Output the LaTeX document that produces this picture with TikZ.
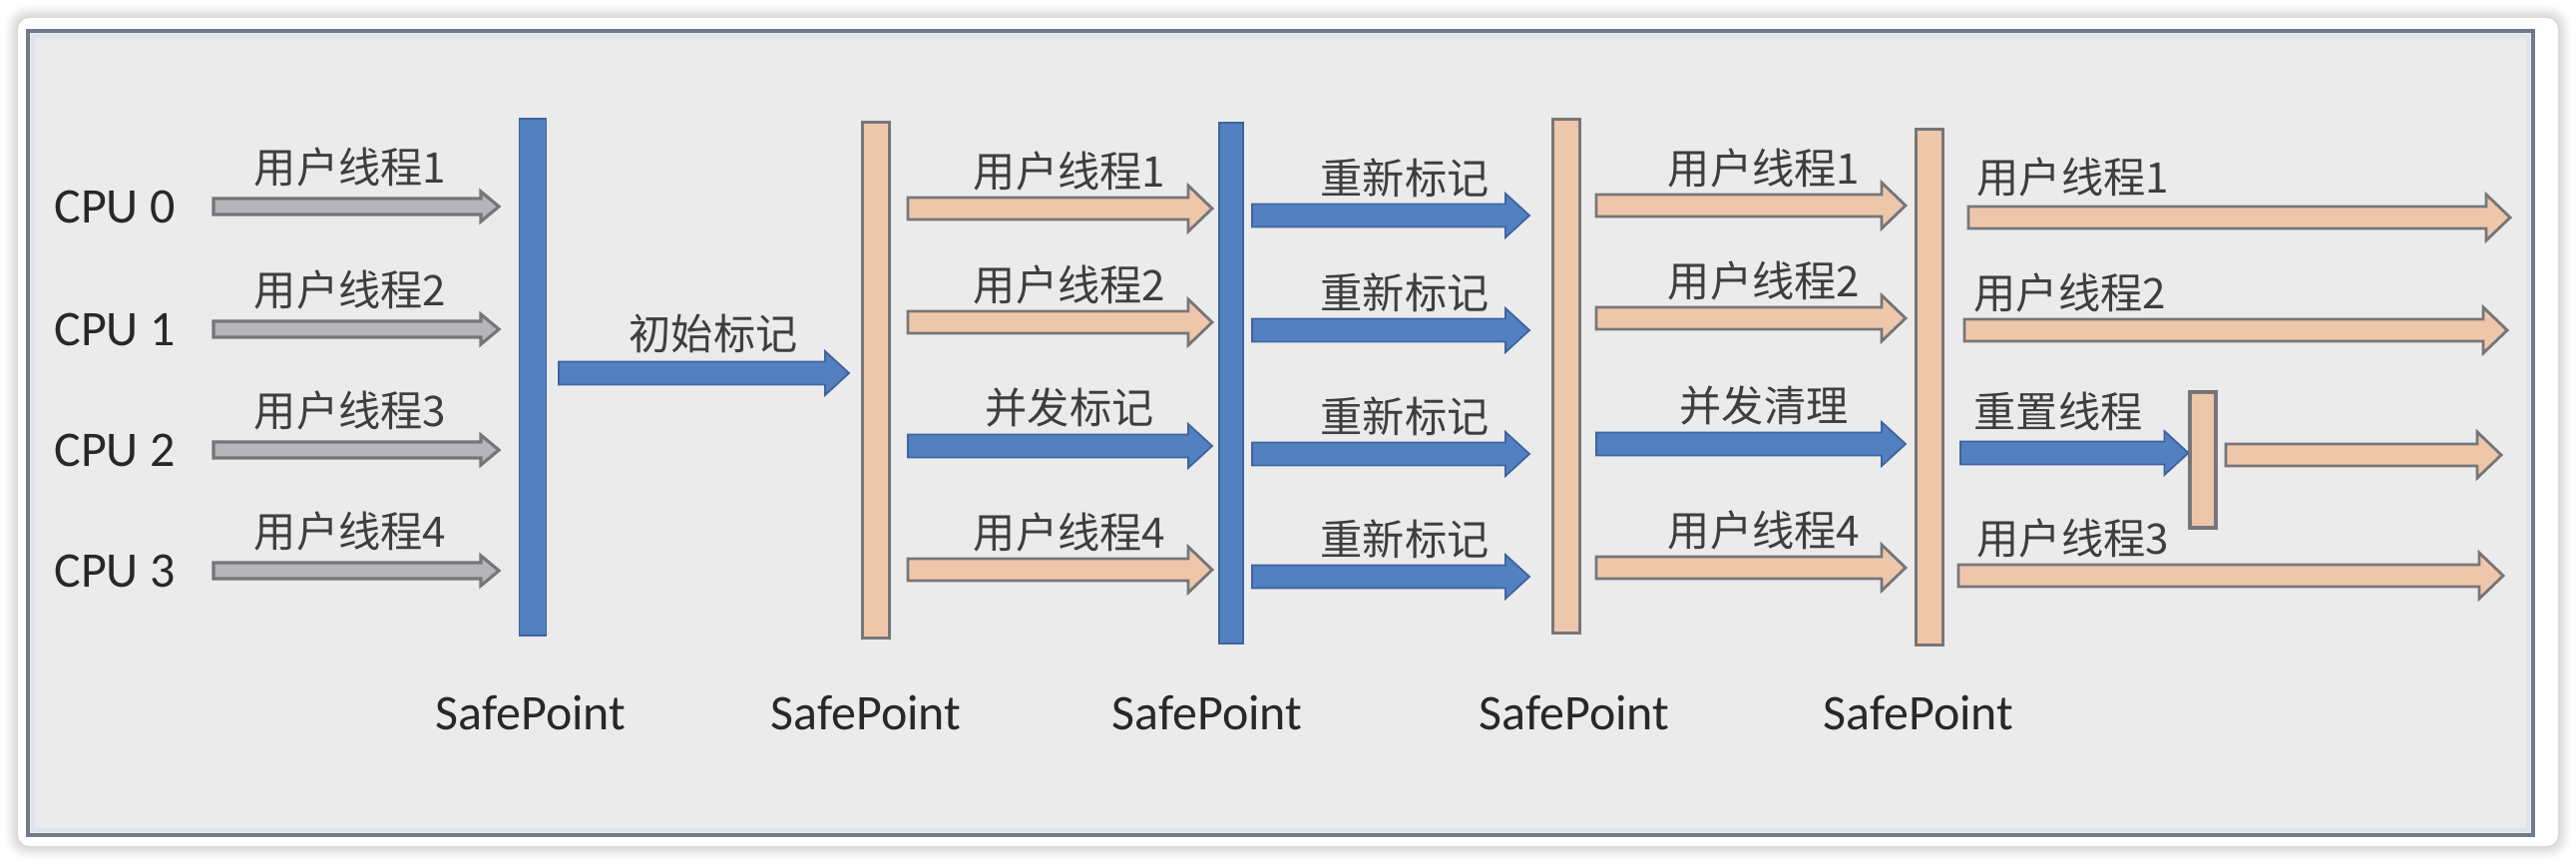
\documentclass[tikz,border=0pt]{standalone}
\usepackage{fontspec}
\setmainfont{Carlito}
\newfontfamily\cjk{Noto Sans CJK SC}
\usetikzlibrary{calc}

\definecolor{nen}{RGB}{235,235,235}
\definecolor{khung}{RGB}{112,122,138}
\definecolor{khungnhat}{RGB}{222,228,236}
\definecolor{xanh}{RGB}{82,128,193}
\definecolor{xanhdam}{RGB}{62,100,158}
\definecolor{cam}{RGB}{238,199,170}
\definecolor{xam}{RGB}{182,182,184}
\definecolor{vien}{RGB}{118,118,122}
\definecolor{chu}{RGB}{62,62,62}
\definecolor{chuden}{RGB}{40,40,40}

\tikzset{
  fat/.style n args={3}{to path={
      ($(\tikztostart)+(0,#1)$) -- ($(\tikztotarget)+(-#3,#1)$)
      -- ($(\tikztotarget)+(-#3,#2)$) -- (\tikztotarget)
      -- ($(\tikztotarget)+(-#3,-#2)$) -- ($(\tikztotarget)+(-#3,-#1)$)
      -- ($(\tikztostart)+(0,-#1)$) -- cycle}},
  muixam/.style={fat={8}{15}{18}, fill=xam, draw=vien, line width=0.9pt},
  muicam/.style={fat={11}{23}{24}, fill=cam, draw=vien, line width=0.8pt},
  muixanh/.style={fat={11.5}{22}{24}, fill=xanh, draw=xanhdam, line width=0.5pt},
  cot/.style={rectangle, inner sep=0pt, minimum width=0.27cm},
  cotxanh/.style={cot, fill=xanh, draw=xanhdam, line width=0.5pt},
  cotcam/.style={cot, fill=cam, draw=vien, line width=0.9pt},
  nhan/.style={font=\cjk\fontsize{12}{14}\selectfont, text=chu, inner sep=0pt},
  chuto/.style={font=\fontsize{14.2}{17}\selectfont, text=chuden, inner sep=0pt}
}

\begin{document}
\begin{tikzpicture}[x=0.01cm, y=-0.01cm]
  \useasboundingbox (0,0) rectangle (2582,866);
  % Nền và khung
  \fill[white] (0,0) rectangle (2582,866);
  \foreach \k in {1,...,6}
    \draw[black, opacity=0.025, line width=\k*1.2pt, rounded corners=0.12cm] (18,18) rectangle (2564,848);
  \fill[white, rounded corners=0.12cm] (18,18) rectangle (2564,848);
  \filldraw[fill=nen, draw=khung, line width=1.1pt] (28,31) rectangle (2539,837);
  \draw[khungnhat, line width=1.2pt] (33,36) rectangle (2534,832);

  % Các SafePoint
  \node[cotxanh, minimum height=5.18cm] (sp1) at (534,378) {};
  \node[cotcam, minimum height=5.16cm] (sp2) at (878,381) {};
  \node[cotxanh, minimum height=5.22cm, minimum width=0.24cm] (sp3) at (1234,384) {};
  \node[cotcam, minimum height=5.15cm] (sp4) at (1570,377) {};
  \node[cotcam, minimum height=5.16cm] (sp5) at (1934,388) {};
  \node[cotcam, minimum height=1.36cm, minimum width=0.26cm] (sp6) at (2208,461) {};
  \foreach \i/\x in {1/532, 2/868, 3/1210, 4/1578, 5/1923}
    \node[chuto] (ten\i) at (\x,714) {SafePoint};

  % CPU và luồng người dùng
  \foreach \i/\y/\t in {0/207/1, 1/330/2, 2/451/3, 3/572/4} {
    \node[chuto] (cpu\i) at (115,\y) {CPU \i};
    \coordinate (a\i) at (214,\y);
    \coordinate (b\i) at (500,\y);
    \draw[muixam] (a\i) to (b\i);
    \node[nhan] (u\i) at (351,\y-40) {用户线程\t};
  }

  % Đánh dấu ban đầu
  \coordinate (k1) at (560,374);
  \coordinate (k2) at (851,374);
  \draw[muixanh] (k1) to (k2);
  \node[nhan] (nk) at (715,334) {初始标记};

  % Cột 3
  \foreach \i/\y/\s/\t in {0/209/muicam/用户线程1, 1/323/muicam/用户线程2, 2/447/muixanh/并发标记, 3/571/muicam/用户线程4} {
    \coordinate (c\i) at (910,\y);
    \coordinate (d\i) at (1215,\y);
    \draw[\s] (c\i) to (d\i);
    \node[nhan] (v\i) at (1072,\y-38) {\t};
  }

  % Cột 4
  \foreach \i/\y in {0/216, 1/331, 2/455, 3/578} {
    \coordinate (e\i) at (1255,\y);
    \coordinate (f\i) at (1533,\y);
    \draw[muixanh] (e\i) to (f\i);
    \node[nhan] (w\i) at (1408,\y-38) {重新标记};
  }

  % Cột 5
  \foreach \i/\y/\s/\t in {0/206/muicam/用户线程1, 1/319/muicam/用户线程2, 2/445/muixanh/并发清理, 3/569/muicam/用户线程4} {
    \coordinate (g\i) at (1600,\y);
    \coordinate (h\i) at (1910,\y);
    \draw[\s] (g\i) to (h\i);
    \node[nhan] (z\i) at (1768,\y-38) {\t};
  }

  % Sau SafePoint cuối
  \coordinate (m0) at (1973,218);
  \coordinate (n0) at (2516,218);
  \draw[muicam] (m0) to (n0);
  \node[nhan, anchor=west] (q0) at (1981,177) {用户线程1};

  \coordinate (m1) at (1969,331);
  \coordinate (n1) at (2513,331);
  \draw[muicam] (m1) to (n1);
  \node[nhan, anchor=west] (q1) at (1978,293) {用户线程2};

  \coordinate (m2) at (1965,454);
  \coordinate (n2) at (sp6.west |- m2);
  \draw[muixanh] (m2) to (n2);
  \node[nhan, anchor=west] (q2) at (1978,412) {重置线程};
  \coordinate (m3) at (2231,456);
  \coordinate (n3) at (2507,456);
  \draw[muicam] (m3) to (n3);

  \coordinate (m4) at (1963,577);
  \coordinate (n4) at (2509,577);
  \draw[muicam] (m4) to (n4);
  \node[nhan, anchor=west] (q4) at (1981,539) {用户线程3};
\end{tikzpicture}
\end{document}
